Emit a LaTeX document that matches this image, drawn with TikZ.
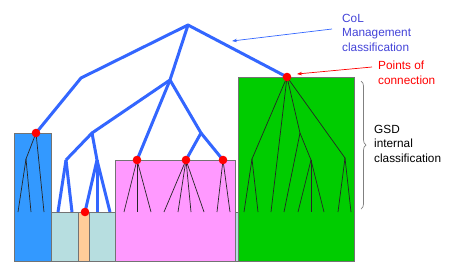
\documentclass[tikz,border=0pt]{standalone}
\usepackage{fontspec}
\setmainfont{Liberation Sans}
\usetikzlibrary{arrows.meta,decorations.pathreplacing}

\definecolor{treeblue}{HTML}{3366FF}
\definecolor{notetext}{HTML}{4343D8}
\definecolor{blockblue}{HTML}{3399FF}
\definecolor{lightteal}{HTML}{B7DEE0}
\definecolor{blockorange}{HTML}{FFCC99}
\definecolor{blockpink}{HTML}{FF99FF}
\definecolor{blockgreen}{HTML}{00CC00}

\begin{document}
\begin{tikzpicture}[x=1pt,y=-1pt,
  branch/.style={line width=3pt,treeblue,line join=round},
  twig/.style={line width=0.7pt,black!85},
  box/.style={draw=black!55,line width=0.6pt},
  joint/.style={fill=red},
  pointer/.style={line width=0.7pt,-{Stealth[length=5pt,width=3.5pt]}},
  note/.style={font=\fontsize{11.8}{14.5}\selectfont,align=left,anchor=base west,inner sep=0pt}]

\useasboundingbox (0,0) rectangle (450,274);

% Bottom strip and coloured blocks
\draw[box,fill=lightteal] (14,212) rectangle (238,261);
\draw[box,fill=blockorange] (78,212) rectangle (89,261);
\draw[box,fill=blockblue] (14,133) rectangle (51,261);
\draw[box,fill=blockpink] (115,160) rectangle (235,261);
\draw[box,fill=blockgreen] (238,77) rectangle (354,261);

% Points of connection
\coordinate (pBlue) at (36,133);
\coordinate (pOrange) at (85,212);
\coordinate (pPinkA) at (137,160);
\coordinate (pPinkB) at (186,160);
\coordinate (pPinkC) at (223,160);
\coordinate (pGreen) at (287,77);

% Internal trees (thin black)
\coordinate (bKnot) at (26,159);
\draw[twig] (pBlue) -- (bKnot);
\draw[twig] (pBlue) -- (44,212);
\foreach \x in {18,31} \draw[twig] (bKnot) -- (\x,212);

\foreach \x in {124,137,151} \draw[twig] (pPinkA) -- (\x,212);
\foreach \x in {164,178,191,204} \draw[twig] (pPinkB) -- (\x,212);
\foreach \x in {217,230} \draw[twig] (pPinkC) -- (\x,212);

\coordinate (gA) at (252,159);
\coordinate (gB) at (300,133);
\coordinate (gC) at (345,158);
\coordinate (gD) at (311,160);
\draw[twig] (pGreen) -- (gA);
\draw[twig] (pGreen) -- (271,212);
\draw[twig] (pGreen) -- (gB);
\draw[twig] (pGreen) -- (gC);
\draw[twig] (gB) -- (284,212);
\draw[twig] (gB) -- (gD);
\foreach \x in {244,258} \draw[twig] (gA) -- (\x,212);
\foreach \x in {298,311,324} \draw[twig] (gD) -- (\x,212);
\foreach \x in {338,351} \draw[twig] (gC) -- (\x,212);

% Management tree (thick blue)
\coordinate (top) at (188,25);
\coordinate (lBend) at (81,78);
\coordinate (mid) at (170,80);
\coordinate (mLeft) at (92,133);
\coordinate (mRight) at (201,133);
\coordinate (tA) at (66,160);
\coordinate (tB) at (97,160);
\draw[branch] (pBlue) -- (lBend) -- (top) -- (pGreen);
\draw[branch] (top) -- (mid) -- (mLeft);
\draw[branch] (mid) -- (pPinkA);
\draw[branch] (mid) -- (mRight) -- (pPinkB);
\draw[branch] (mRight) -- (pPinkC);
\draw[branch] (tA) -- (mLeft) -- (tB) -- (pOrange);
\foreach \x in {58,72} \draw[branch] (tA) -- (\x,212);
\foreach \x in {97,110} \draw[branch] (tB) -- (\x,212);

% Red dots
\foreach \p in {pBlue,pOrange,pPinkA,pPinkB,pPinkC,pGreen}
  \fill[joint] (\p) circle (4.3);

% Annotations (anchored at the last baseline)
\node[note,text=notetext] (colNote) at (342,51) {CoL\\Management\\classification};
\node[note,text=red] (pcNote) at (378,84) {Points of\\connection};
\node[note] (gsdNote) at (374,162) {GSD\\internal\\classification};

\coordinate (colTail) at (332,29);
\coordinate (colTip) at (232,41);
\draw[pointer,treeblue] (colTail) -- (colTip);
\coordinate (pcTail) at (372,67);
\coordinate (pcTip) at (297,74);
\draw[pointer,red] (pcTail) -- (pcTip);

\coordinate (braceTop) at (361,81);
\coordinate (braceBot) at (361,209);
\draw[gray,line width=0.7pt,decorate,decoration={brace,amplitude=5pt}] (braceTop) -- (braceBot);

\end{tikzpicture}
\end{document}
